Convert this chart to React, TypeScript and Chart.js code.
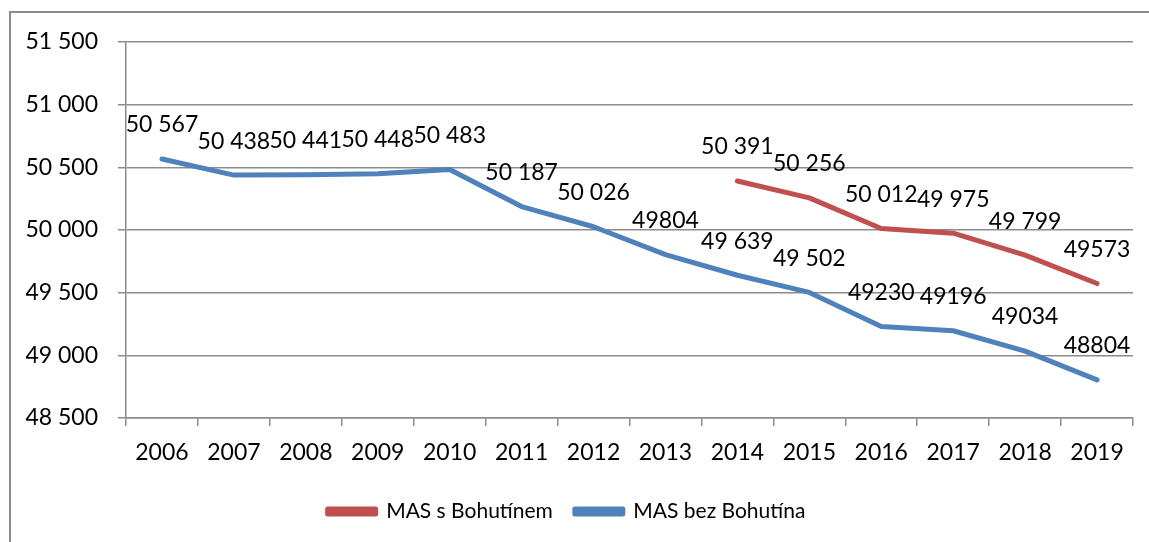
import React, { useEffect, useRef } from "react";
import { Chart, registerables } from "chart.js";

Chart.register(...registerables);

const years = ["2006", "2007", "2008", "2009", "2010", "2011", "2012", "2013", "2014", "2015", "2016", "2017", "2018", "2019"];
const withBohutin = [null, null, null, null, null, null, null, null, 50391, 50256, 50012, 49975, 49799, 49573];
const withoutBohutin = [50567, 50438, 50441, 50448, 50483, 50187, 50026, 49804, 49639, 49502, 49230, 49196, 49034, 48804];
const withBohutinLabels = [null, null, null, null, null, null, null, null, "50 391", "50 256", "50 012", "49 975", "49 799", "49573"];
const withoutBohutinLabels = ["50 567", "50 438", "50 441", "50 448", "50 483", "50 187", "50 026", "49804", "49 639", "49 502", "49230", "49196", "49034", "48804"];
const seriesNames = ["MAS s Bohutínem", "MAS bez Bohutína"];
const yMin = 48500;
const yMax = 51500;
const yStep = 500;

const FONT = "Lato, 'Open Sans', sans-serif";
const RED = "#C0504D";
const BLUE = "#4F81BD";
const GRID = "#8c8c8c";

const fmt = (v: number) => {
  const th = Math.floor(v / 1000);
  const rest = String(Math.round(v % 1000)).padStart(3, "0");
  return `${th} ${rest}`;
};

const labelPlugin = {
  id: "pointLabels",
  afterDatasetsDraw(chart: any) {
    const ctx = chart.ctx;
    const allLabels = [withBohutinLabels, withoutBohutinLabels];
    ctx.save();
    ctx.font = `23px ${FONT}`;
    ctx.fillStyle = "#000";
    ctx.textAlign = "center";
    ctx.textBaseline = "middle";
    chart.data.datasets.forEach((ds: any, di: number) => {
      const meta = chart.getDatasetMeta(di);
      meta.data.forEach((pt: any, i: number) => {
        const txt = allLabels[di][i];
        if (txt == null || ds.data[i] == null) return;
        ctx.fillText(txt, pt.x, pt.y - 34);
      });
    });
    ctx.restore();
  },
};

export default function App() {
  const ref = useRef<HTMLCanvasElement | null>(null);
  useEffect(() => {
    if (!ref.current) return;
    const chart = new Chart(ref.current, {
      type: "line",
      data: {
        labels: years,
        datasets: [
          {
            label: seriesNames[0],
            data: withBohutin,
            borderColor: RED,
            backgroundColor: RED,
            borderWidth: 5,
            pointRadius: 0,
            borderCapStyle: "round",
            borderJoinStyle: "round",
            tension: 0,
          },
          {
            label: seriesNames[1],
            data: withoutBohutin,
            borderColor: BLUE,
            backgroundColor: BLUE,
            borderWidth: 5,
            pointRadius: 0,
            borderCapStyle: "round",
            borderJoinStyle: "round",
            tension: 0,
          },
        ],
      },
      options: {
        responsive: false,
        animation: false,
        layout: { padding: { left: 0, right: 16, top: 42, bottom: 10 } },
        plugins: {
          tooltip: { enabled: false },
          legend: {
            position: "bottom",
            labels: {
              font: { family: FONT, size: 21 },
              color: "#000",
              boxWidth: 48,
              boxHeight: 5,
              padding: 22,
            },
          },
        },
        scales: {
          x: {
            offset: true,
            grid: {
              display: true,
              offset: true,
              drawOnChartArea: false,
              tickLength: 8,
              color: GRID,
              lineWidth: 1.5,
            },
            border: { display: true, color: GRID, width: 1.5 },
            ticks: { font: { family: FONT, size: 23 }, color: "#000", padding: 13, maxRotation: 0 },
            afterFit: (s: any) => {
              s.height = 61;
            },
          },
          y: {
            min: yMin,
            max: yMax,
            grid: { color: GRID, lineWidth: 1.5, tickLength: 8 },
            border: { display: true, color: GRID, width: 1.5 },
            ticks: {
              stepSize: yStep,
              font: { family: FONT, size: 23 },
              color: "#000",
              padding: 20,
              callback: (v: any) => fmt(Number(v)),
            },
            afterFit: (s: any) => {
              s.width = 126;
            },
          },
        },
      },
      plugins: [labelPlugin],
    });
    return () => chart.destroy();
  }, []);
  return (
    <div style={{ position: "fixed", left: 0, top: 0, width: 1149, height: 542, background: "#fff" }}>
      <div
        style={{
          position: "absolute",
          left: 9,
          top: 11,
          width: 1300,
          height: 700,
          borderLeft: "2px solid #8c8c8c",
          borderTop: "2px solid #8c8c8c",
        }}
      />
      <canvas ref={ref} width={1149} height={542} style={{ position: "absolute", left: 0, top: 0 }} />
    </div>
  );
}
